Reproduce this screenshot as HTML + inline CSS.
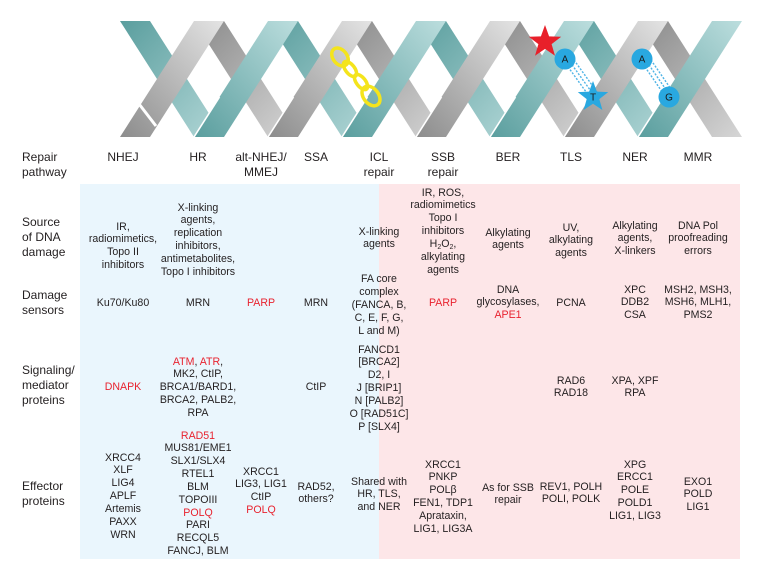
<!DOCTYPE html>
<html><head><meta charset="utf-8">
<style>
html,body{margin:0;padding:0;}
body{width:759px;height:567px;position:relative;background:#fff;overflow:hidden;font-family:"Liberation Sans",Arial,sans-serif;color:#231f20;}
.bg{position:absolute;}
.c{position:absolute;width:140px;margin-left:-70px;text-align:center;font-size:10.6px;line-height:12.85px;white-space:nowrap;}
.h{position:absolute;width:140px;margin-left:-70px;text-align:center;font-size:12px;line-height:15px;white-space:nowrap;}
.l{position:absolute;left:22px;font-size:12px;line-height:15px;white-space:nowrap;}
.r{color:#e8232f;}
sub{font-size:7px;line-height:0;vertical-align:-2px;}
</style></head>
<body>
<svg width="759" height="145" style="position:absolute;left:0;top:0" xmlns="http://www.w3.org/2000/svg">
<defs>
<linearGradient id="td" x1="0" y1="0" x2="1" y2="1"><stop offset="0" stop-color="#5a9e9e"/><stop offset="1" stop-color="#b2d7d7"/></linearGradient>
<linearGradient id="tu" x1="0" y1="1" x2="1" y2="0"><stop offset="0" stop-color="#5a9e9e"/><stop offset="1" stop-color="#bcdede"/></linearGradient>
<linearGradient id="gd" x1="0" y1="0" x2="1" y2="1"><stop offset="0" stop-color="#8a8a8a"/><stop offset="1" stop-color="#d6d6d6"/></linearGradient>
<linearGradient id="gu" x1="0" y1="1" x2="1" y2="0"><stop offset="0" stop-color="#8c8c8c"/><stop offset="1" stop-color="#e4e4e4"/></linearGradient>
</defs>
<!-- back: down-right segments -->
<g>
<polygon fill="url(#td)" points="120,21 150,21 224,137 194,137"/>
<polygon fill="url(#td)" points="268,21 298,21 372,137 342,137"/>
<polygon fill="url(#td)" points="416,21 446,21 520,137 490,137"/>
<polygon fill="url(#td)" points="564,21 594,21 668,137 638,137"/>
<polygon fill="url(#gd)" points="194,21 224,21 298,137 268,137"/>
<polygon fill="url(#gd)" points="342,21 372,21 446,137 416,137"/>
<polygon fill="url(#gd)" points="490,21 520,21 594,137 564,137"/>
<polygon fill="url(#gd)" points="638,21 668,21 742,137 712,137"/>
</g>
<!-- front: up-right segments -->
<g>
<polygon fill="url(#tu)" points="194,137 224,137 298,21 268,21"/>
<polygon fill="url(#tu)" points="342,137 372,137 446,21 416,21"/>
<polygon fill="url(#tu)" points="490,137 520,137 594,21 564,21"/>
<polygon fill="url(#tu)" points="638,137 668,137 742,21 712,21"/>
<polygon fill="url(#gu)" points="120,137 150,137 224,21 194,21"/>
<polygon fill="url(#gu)" points="268,137 298,137 372,21 342,21"/>
<polygon fill="url(#gu)" points="416,137 446,137 520,21 490,21"/>
<polygon fill="url(#gu)" points="564,137 594,137 668,21 638,21"/>
</g>
<g stroke="#fff" stroke-width="1.6">
<line x1="194" y1="137" x2="219.5" y2="97"/>
<line x1="268" y1="137" x2="293.5" y2="97"/>
<line x1="342" y1="137" x2="367.5" y2="97"/>
<line x1="416" y1="137" x2="441.5" y2="97"/>
<line x1="490" y1="137" x2="515.5" y2="97"/>
<line x1="564" y1="137" x2="589.5" y2="97"/>
<line x1="638" y1="137" x2="663.5" y2="97"/>
</g>
<line x1="136" y1="100" x2="156" y2="126" stroke="#fff" stroke-width="3"/>
<!-- yellow chain -->
<g fill="none" stroke="#f4e41c" stroke-width="3.5">
<ellipse cx="340" cy="57" rx="10" ry="7" transform="rotate(52 340 57)"/>
<ellipse cx="350" cy="69" rx="9" ry="4.5" transform="rotate(52 350 69)"/>
<ellipse cx="361" cy="82" rx="9" ry="4.5" transform="rotate(52 361 82)"/>
<ellipse cx="371" cy="96" rx="11" ry="7.5" transform="rotate(52 371 96)"/>
</g>
<!-- bonds -->
<g stroke="#4fb4e6" stroke-width="1.4" stroke-dasharray="2,1.5">
<line x1="566" y1="64" x2="589" y2="96"/>
<line x1="570" y1="62" x2="593" y2="94"/>
<line x1="574" y1="60" x2="597" y2="92"/>
<line x1="643" y1="64" x2="665" y2="96"/>
<line x1="647" y1="62" x2="669" y2="94"/>
<line x1="651" y1="60" x2="673" y2="92"/>
</g>
<!-- red star -->
<polygon fill="#e8202a" points="545,25 549.1,36.4 561.2,36.7 551.6,44.1 555,55.8 545,48.9 535,55.8 538.4,44.1 528.8,36.7 540.9,36.4"/>
<!-- blue star -->
<polygon fill="#29a8e0" points="593,81 596.9,91.6 608.2,92.1 599.3,99.1 602.4,110 593,103.7 583.6,110 586.7,99.1 577.8,92.1 589.1,91.6"/>
<circle cx="565" cy="59" r="10.5" fill="#29a8e0"/>
<circle cx="642" cy="59" r="10.5" fill="#29a8e0"/>
<circle cx="669" cy="97" r="10.5" fill="#29a8e0"/>
<g font-family="Liberation Sans, Arial, sans-serif" font-size="10" fill="#1a1a1a" text-anchor="middle">
<text x="565" y="62.5">A</text>
<text x="593" y="100.5">T</text>
<text x="642" y="62.5">A</text>
<text x="669" y="100.5">G</text>
</g>
</svg>

<div class="bg" style="left:80px;top:184px;width:299px;height:375px;background:#eaf6fd;"></div>
<div class="bg" style="left:379px;top:184px;width:361px;height:375px;background:#fde6e8;"></div>

<!-- row labels -->
<div class="l" style="top:150.2px">Repair<br>pathway</div>
<div class="l" style="top:215.2px">Source<br>of DNA<br>damage</div>
<div class="l" style="top:288.2px">Damage<br>sensors</div>
<div class="l" style="top:363.2px">Signaling/<br>mediator<br>proteins</div>
<div class="l" style="top:479.2px">Effector<br>proteins</div>

<!-- headers -->
<div class="h" style="left:123px;top:150.2px">NHEJ</div>
<div class="h" style="left:198px;top:150.2px">HR</div>
<div class="h" style="left:261px;top:150.2px">alt-NHEJ/<br>MMEJ</div>
<div class="h" style="left:316px;top:150.2px">SSA</div>
<div class="h" style="left:379px;top:150.2px">ICL<br>repair</div>
<div class="h" style="left:443px;top:150.2px">SSB<br>repair</div>
<div class="h" style="left:508px;top:150.2px">BER</div>
<div class="h" style="left:571px;top:150.2px">TLS</div>
<div class="h" style="left:635px;top:150.2px">NER</div>
<div class="h" style="left:698px;top:150.2px">MMR</div>

<!-- source of DNA damage -->
<div class="c" style="left:123px;top:220.5px">IR,<br>radiomimetics,<br>Topo II<br>inhibitors</div>
<div class="c" style="left:198px;top:201.5px">X-linking<br>agents,<br>replication<br>inhibitors,<br>antimetabolites,<br>Topo I inhibitors</div>
<div class="c" style="left:379px;top:225.5px">X-linking<br>agents</div>
<div class="c" style="left:443px;top:186.5px">IR, ROS,<br>radiomimetics<br>Topo I<br>inhibitors<br>H<sub>2</sub>O<sub>2</sub>,<br>alkylating<br>agents</div>
<div class="c" style="left:508px;top:226.5px">Alkylating<br>agents</div>
<div class="c" style="left:571px;top:221.5px">UV,<br>alkylating<br>agents</div>
<div class="c" style="left:635px;top:219.5px">Alkylating<br>agents,<br>X-linkers</div>
<div class="c" style="left:698px;top:219.5px">DNA Pol<br>proofreading<br>errors</div>

<!-- damage sensors -->
<div class="c" style="left:123px;top:296.5px">Ku70/Ku80</div>
<div class="c" style="left:198px;top:296.5px">MRN</div>
<div class="c r" style="left:261px;top:296.5px">PARP</div>
<div class="c" style="left:316px;top:296.5px">MRN</div>
<div class="c" style="left:379px;top:272.5px;line-height:13.2px">FA core<br>complex<br>(FANCA, B,<br>C, E, F, G,<br>L and M)</div>
<div class="c r" style="left:443px;top:296.5px">PARP</div>
<div class="c" style="left:508px;top:283.5px">DNA<br>glycosylases,<br><span class="r">APE1</span></div>
<div class="c" style="left:571px;top:296.5px">PCNA</div>
<div class="c" style="left:635px;top:283.5px">XPC<br>DDB2<br>CSA</div>
<div class="c" style="left:698px;top:283.5px">MSH2, MSH3,<br>MSH6, MLH1,<br>PMS2</div>

<!-- signaling -->
<div class="c r" style="left:123px;top:380.5px">DNAPK</div>
<div class="c" style="left:198px;top:355.5px"><span class="r">ATM</span>, <span class="r">ATR</span>,<br>MK2, CtIP,<br>BRCA1/BARD1,<br>BRCA2, PALB2,<br>RPA</div>
<div class="c" style="left:316px;top:380.5px">CtIP</div>
<div class="c" style="left:379px;top:343.5px">FANCD1<br>[BRCA2]<br>D2, I<br>J [BRIP1]<br>N [PALB2]<br>O [RAD51C]<br>P [SLX4]</div>
<div class="c" style="left:571px;top:374.5px">RAD6<br>RAD18</div>
<div class="c" style="left:635px;top:374.5px">XPA, XPF<br>RPA</div>

<!-- effector -->
<div class="c" style="left:123px;top:451.5px">XRCC4<br>XLF<br>LIG4<br>APLF<br>Artemis<br>PAXX<br>WRN</div>
<div class="c" style="left:198px;top:429.5px"><span class="r">RAD51</span><br>MUS81/EME1<br>SLX1/SLX4<br>RTEL1<br>BLM<br>TOPOIII<br><span class="r">POLQ</span><br>PARI<br>RECQL5<br>FANCJ, BLM</div>
<div class="c" style="left:261px;top:465.5px">XRCC1<br>LIG3, LIG1<br>CtIP<br><span class="r">POLQ</span></div>
<div class="c" style="left:316px;top:480.5px">RAD52,<br>others?</div>
<div class="c" style="left:379px;top:475.5px">Shared with<br>HR, TLS,<br>and NER</div>
<div class="c" style="left:443px;top:458.5px">XRCC1<br>PNKP<br>POLβ<br>FEN1, TDP1<br>Aprataxin,<br>LIG1, LIG3A</div>
<div class="c" style="left:508px;top:481.5px">As for SSB<br>repair</div>
<div class="c" style="left:571px;top:480.5px">REV1, POLH<br>POLI, POLK</div>
<div class="c" style="left:635px;top:458.5px">XPG<br>ERCC1<br>POLE<br>POLD1<br>LIG1, LIG3</div>
<div class="c" style="left:698px;top:475.5px">EXO1<br>POLD<br>LIG1</div>
</body></html>
